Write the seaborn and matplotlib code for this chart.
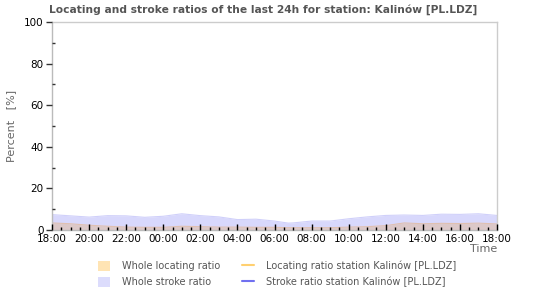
import matplotlib
matplotlib.use("Agg")
import matplotlib.pyplot as plt
import seaborn as sns
import numpy as np
import pandas as pd
from matplotlib.patches import Patch
from matplotlib.lines import Line2D
from matplotlib.ticker import MultipleLocator

hours = [0, 1, 2, 3, 4, 5, 6, 7, 8, 9, 10, 11, 12, 12.75, 13, 14, 15, 16, 17, 18, 19, 20, 21, 22, 23, 24]
stroke_ratio = [7.4, 6.8, 6.2, 6.9, 6.8, 6.1, 6.6, 7.8, 6.9, 6.3, 5.0, 5.2, 4.3, 3.3, 3.4, 4.3, 4.3, 5.4, 6.3, 7.0, 7.2, 7.0, 7.6, 7.5, 7.8, 7.0]
locating_ratio = [3.4, 3.0, 2.3, 1.8, 1.4, 1.3, 1.3, 1.8, 1.6, 1.4, 1.4, 1.3, 1.3, 1.1, 1.1, 1.1, 1.1, 1.4, 1.6, 2.1, 3.4, 3.0, 3.2, 3.1, 3.3, 2.9]
tick_labels = ["18:00", "20:00", "22:00", "00:00", "02:00", "04:00", "06:00",
               "08:00", "10:00", "12:00", "14:00", "16:00", "18:00"]
y_ticks = [0, 20, 40, 60, 80, 100]

df = pd.DataFrame({"h": hours, "stroke": stroke_ratio, "loc": locating_ratio})

sns.set_theme(style="white", rc={"axes.axisbelow": False, "xtick.bottom": True, "ytick.left": True})
plt.rcParams["font.family"] = ["DejaVu Sans"]

fig = plt.figure(figsize=(5.5, 3.0), dpi=100)
ax = fig.add_axes([52 / 550, 1 - 230 / 300, 445 / 550, 208 / 300])
ax.set_axisbelow(False)

stroke_col = "#d8d8fc"
loc_fill = "#dcc8c8"
ax.fill_between(df["h"], 0, df["stroke"], color=stroke_col, lw=0, zorder=1)
ax.fill_between(df["h"], 0, df["loc"], color=loc_fill, lw=0, zorder=1.2)
sns.lineplot(data=df, x="h", y="stroke", ax=ax, color="#d0d0fa", lw=0.8, zorder=1.5)
sns.lineplot(data=df, x="h", y="loc", ax=ax, color="#e0c0b0", lw=0.8, zorder=1.5)

ax.set_xlim(0, 24)
ax.set_ylim(0, 100)
ax.set_xticks(np.arange(0, 25, 2))
ax.set_xticklabels(tick_labels, fontsize=7.5, color="black")
ax.xaxis.set_minor_locator(MultipleLocator(0.5))
ax.set_yticks(y_ticks)
ax.set_yticklabels([str(v) for v in y_ticks], fontsize=7.5, color="black")
ax.yaxis.set_minor_locator(MultipleLocator(10))
ax.tick_params(axis="x", which="major", direction="in", length=4, width=1, color="black", pad=3, bottom=True)
ax.tick_params(axis="x", which="minor", direction="in", length=2.5, width=1, color="black", bottom=True)
ax.tick_params(axis="y", which="major", direction="out", length=4, width=1, color="#333333", pad=2, left=True)
ax.tick_params(axis="y", which="minor", direction="in", length=2, width=1, color="#333333", left=True)
for s in ["top", "right"]:
    ax.spines[s].set_color("#cccccc")
    ax.spines[s].set_linewidth(1)
for s in ["left", "bottom"]:
    ax.spines[s].set_color("#bbbbbb")
    ax.spines[s].set_linewidth(1)
ax.set_xlabel("")
ax.set_ylabel("Percent   [%]", fontsize=8, color="#666666", labelpad=6)
ax.grid(False)

fig.text(49 / 550, 1 - 10 / 300, "Locating and stroke ratios of the last 24h for station: Kalinów [PL.LDZ]",
         fontsize=7.7, fontweight="bold", color="#555555", ha="left", va="center")
fig.text(497 / 550, 1 - 249 / 300, "Time", fontsize=8, color="#666666", ha="right", va="center")

handles = [Patch(facecolor="#ffe4b4", edgecolor="none"),
           Patch(facecolor="#dcdcfc", edgecolor="none"),
           Line2D([0], [0], color="#ffd070", lw=1.5),
           Line2D([0], [0], color="#7070f0", lw=1.5)]
labels = ["Whole locating ratio", "Whole stroke ratio",
          "Locating ratio station Kalinów [PL.LDZ]", "Stroke ratio station Kalinów [PL.LDZ]"]
leg = fig.legend(handles, labels, ncol=2, loc="center", bbox_to_anchor=(277 / 550, 1 - 274 / 300),
                 frameon=False, fontsize=7, handlelength=1.2, handleheight=1.2, columnspacing=2.3,
                 handletextpad=1.2, labelspacing=0.6)
for t in leg.get_texts():
    t.set_color("#555555")

fig.savefig("out.png", dpi=100)
